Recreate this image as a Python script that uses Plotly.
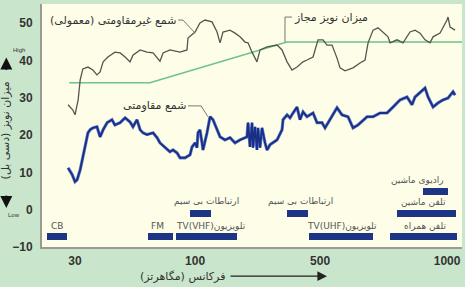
import math
import plotly.graph_objects as go

# ---------------- data ----------------
gray_freq = [28.1, 29.4, 30.0, 30.9, 31.5, 32.3, 33.9, 35.5, 36.9, 38.0, 39.1, 40.9, 43.7, 45.9, 48.1,
             50.4, 51.8, 55.4, 59.1, 62.6, 66.8, 68.8, 73.4, 80.7, 86.2, 87.0, 93.0, 97.4, 102.1, 109.1,
             114.4, 117.7, 121.0, 129.3, 135.5, 142.1, 148.9, 153.2, 159.1, 166.7, 171.5, 183.3, 201.4,
             211.1, 221.3, 231.9, 243.1, 257.2, 267.1, 282.7, 296.3, 310.6, 322.5, 338.1, 354.4, 364.6,
             382.2, 412.1, 440.3, 461.5, 474.8, 497.7, 521.7, 546.9, 573.3, 584.2, 624.1, 660.1, 705.1,
             739.1, 775.0, 812.3, 851.6, 876.0, 935.6, 999.4, 1008.8, 1028, 1078]
gray_db = [28.1, 26.7, 25.4, 29.4, 34.8, 37.7, 38.2, 37.4, 36.1, 36.9, 39.6, 40.9, 42.2, 42.0, 40.9,
           39.6, 41.4, 42.8, 42.2, 42.0, 39.8, 42.0, 42.8, 42.2, 42.8, 46.0, 47.6, 50.0, 50.8, 50.3,
           47.6, 44.7, 47.6, 48.1, 47.3, 46.3, 44.9, 44.7, 42.2, 39.6, 42.8, 43.6, 44.1,
           42.8, 39.6, 37.4, 38.2, 39.6, 40.1, 40.9, 45.5, 45.5, 44.1, 44.1, 40.6, 38.0,
           37.2, 38.0, 39.3, 40.1, 44.7, 48.1, 48.7, 47.6, 46.3, 44.7, 45.5, 44.7, 47.6,
           48.1, 47.3, 45.5, 44.7, 46.3, 47.3, 50.8, 51.6, 48.9, 48.1]

blue_freq = [28.1, 29.2, 30.0, 30.6, 31.5, 32.1, 33.0, 33.9, 34.6, 35.5, 36.9, 38.0, 39.1, 40.6, 42.5,
             43.7, 45.9, 48.1, 50.4, 51.8, 53.8, 55.4, 56.9, 59.1, 62.6, 65.0, 66.8, 70.1, 73.4, 75.5,
             78.5, 80.7, 84.6, 88.7, 90.4, 93.0, 94.7, 95.6, 97.4, 99.3, 100.2, 104.1, 107.1, 110.1,
             114.4, 117.7, 123.3, 129.3, 135.5, 142.1, 151.7, 153.2, 156.1, 159.1, 160.6, 163.6, 166.7,
             168.3, 171.5, 174.8, 179.8, 183.3, 188.5, 201.4, 211.1, 213.1, 221.3, 227.6, 234.1, 243.1,
             250.0, 257.2, 267.1, 282.7, 293.5, 307.7, 316.5, 331.8, 354.4, 371.5, 393.1, 412.1, 431.9,
             470.2, 497.7, 531.6, 567.8, 600.8, 641.9, 685.5, 718.6, 739.1, 775.0, 812.3, 835.6, 876.0,
             918.0, 962.3, 1008.8, 1057.6, 1078]
blue_db = [11.2, 9.4, 7.5, 8.0, 10.7, 13.4, 17.4, 20.6, 21.4, 21.9, 22.2, 19.5, 21.4, 23.3, 24.1,
           22.7, 23.3, 24.6, 23.5, 22.2, 24.1, 21.4, 20.6, 20.1, 20.6, 19.3, 17.9, 16.6, 15.5, 16.0,
           15.2, 13.9, 13.9, 14.7, 16.8, 17.9, 16.6, 20.6, 21.4, 17.9, 16.0, 20.6, 24.9, 24.1,
           21.4, 19.5, 18.7, 19.3, 17.9, 18.7, 19.5, 23.3, 16.8, 23.3, 16.6, 22.2, 16.0,
           21.9, 16.6, 21.9, 17.9, 16.0, 17.4, 18.7, 21.4, 24.1, 25.4, 24.6, 25.9, 27.5,
           24.1, 26.2, 24.9, 25.9, 23.3, 23.3, 21.9, 24.1, 27.3, 25.4, 24.9, 21.9, 22.7,
           24.9, 24.9, 25.9, 25.9, 27.5, 29.4, 30.2, 28.1, 30.2, 31.3, 32.6, 30.2, 27.5,
           28.6, 29.4, 29.9, 31.6, 30.7]

limit_freq = [28.4, 60.8, 221.0, 1155.0]
limit_db = [34.0, 34.0, 44.9, 44.9]

band_start = [23.0, 59.7, 77.7, 88.7, 221.0, 272.0, 584.0, 624.0, 797.0]
band_end = [27.8, 75.5, 138.0, 108.0, 270.0, 497.7, 1098.0, 1088.0, 1009.0]
band_level = [-7.2, -7.2, -7.2, -1.1, -1.1, -7.2, -7.2, -1.1, 4.9]

label_text = ["CB", "FM", "TV(VHF)تلویزیون", "\u200fارتباطات بی سیم", "\u200fارتباطات بی سیم",
              "TV(UHF)تلویزیون", "تلفن همراه", "تلفن ماشین", "رادیوی ماشین"]
label_freq = [25.3, 65.0, 108.0, 104.0, 250.0, 371.0, 812.0, 800.0, 760.0]
label_db = [-4.4, -4.4, -4.4, 2.2, 2.2, -4.4, -4.4, 2.1, 8.0]

x_tick_vals = [30, 93, 302, 1000]
x_tick_text = ["30", "100", "500", "1000"]
y_tick_vals = [-10, 0, 10, 20, 30, 40, 50]

# callout texts and leader polylines (freq, dB)
lead_gray_f = [79.2, 83.0, 93.0]
lead_gray_db = [50.8, 50.8, 47.3]
lead_limit_f = [232.0, 217.0, 217.0]
lead_limit_db = [51.6, 51.6, 44.9]
lead_blue_f = [87.0, 98.4, 105.0]
lead_blue_db = [27.8, 27.8, 24.9]

PERSIAN = "DejaVu Sans"
NAVY = "#1c3584"
TICKFONT = dict(family="Liberation Sans, Arial", size=12, color="#333", weight="bold")

fig = go.Figure()

# bands
fig.add_trace(go.Bar(
    orientation="h", y=band_level, base=band_start,
    x=[e - s for s, e in zip(band_start, band_end)],
    width=[1.9] * len(band_start), marker=dict(color=NAVY, line=dict(width=0)),
    hoverinfo="skip", showlegend=False))

# allowed limit
fig.add_trace(go.Scatter(x=limit_freq, y=limit_db, mode="lines",
                         line=dict(color="#6cc48a", width=1.6), showlegend=False, hoverinfo="skip"))
# non-resistive plug
fig.add_trace(go.Scatter(x=gray_freq, y=gray_db, mode="lines",
                         line=dict(color="#55554f", width=1.3), showlegend=False, hoverinfo="skip"))
# resistive plug (halo + core)
fig.add_trace(go.Scatter(x=blue_freq, y=blue_db, mode="lines",
                         line=dict(color="#6f84c8", width=3.2), showlegend=False, hoverinfo="skip"))
fig.add_trace(go.Scatter(x=blue_freq, y=blue_db, mode="lines",
                         line=dict(color="#172f86", width=1.9), showlegend=False, hoverinfo="skip"))

# leaders
for lf, ld in [(lead_gray_f, lead_gray_db), (lead_limit_f, lead_limit_db), (lead_blue_f, lead_blue_db)]:
    fig.add_trace(go.Scatter(x=lf, y=ld, mode="lines", line=dict(color="#6a6a62", width=0.9),
                             showlegend=False, hoverinfo="skip"))

ann = []
ann.append(dict(x=math.log10(lead_gray_f[0]), y=lead_gray_db[0], xref="x", yref="y",
                text="\u200fشمع غیرمقاومتی (معمولی)\u200f", showarrow=False, xanchor="right",
                yanchor="middle", font=dict(family=PERSIAN, size=11, color="#333")))
ann.append(dict(x=math.log10(lead_limit_f[0]), y=lead_limit_db[0], xref="x", yref="y",
                text="میزان نویز مجاز", showarrow=False, xanchor="left",
                yanchor="middle", font=dict(family=PERSIAN, size=11, color="#333")))
ann.append(dict(x=math.log10(lead_blue_f[0]), y=lead_blue_db[0], xref="x", yref="y",
                text="شمع مقاومتی", showarrow=False, xanchor="right",
                yanchor="middle", font=dict(family=PERSIAN, size=11, color="#333")))

for t, f, d in zip(label_text, label_freq, label_db):
    ann.append(dict(x=math.log10(f), y=d, xref="x", yref="y", text=t, showarrow=False,
                    xanchor="center", yanchor="middle",
                    font=dict(family=PERSIAN, size=9, color="#555")))

# x-axis title with arrow
ann.append(dict(x=(227 - 42) / 420, y=-0.12, xref="paper", yref="paper",
                text="\u200fفرکانس (مگاهرتز)\u200f", showarrow=False, xanchor="right", yanchor="middle",
                font=dict(family=PERSIAN, size=11, color="#333")))
ann.append(dict(x=(327 - 42) / 420, y=-0.12, xref="paper", yref="paper", text="",
                showarrow=True, ax=-98, ay=0, arrowhead=2, arrowsize=1.6, arrowwidth=1.2,
                arrowcolor="#222"))

# y-axis title with arrows
ann.append(dict(x=-0.088, y=0.48, xref="paper", yref="paper",
                text="\u200fمیزان نویز (دسی بل)\u200f", textangle=-90, showarrow=False,
                xanchor="center", yanchor="middle",
                font=dict(family=PERSIAN, size=11, color="#333")))
ann.append(dict(x=-0.085, y=0.78, xref="paper", yref="paper", text="", showarrow=True,
                ax=0, ay=14, arrowhead=2, arrowsize=1.6, arrowwidth=1.5, arrowcolor="#111"))
ann.append(dict(x=-0.085, y=0.16, xref="paper", yref="paper", text="", showarrow=True,
                ax=0, ay=-14, arrowhead=2, arrowsize=1.6, arrowwidth=1.5, arrowcolor="#111"))
ann.append(dict(x=-0.075, y=0.83, xref="paper", yref="paper", text="High", showarrow=False,
                font=dict(family="Liberation Sans, Arial", size=6, color="#333")))
ann.append(dict(x=-0.085, y=0.11, xref="paper", yref="paper", text="Low", showarrow=False,
                font=dict(family="Liberation Sans, Arial", size=6, color="#333")))

fig.update_layout(
    width=465, height=287,
    margin=dict(l=42, r=3, t=4, b=40),
    paper_bgcolor="#c9e6cc",
    plot_bgcolor="#fdfde8",
    showlegend=False,
    bargap=0,
    annotations=ann,
    xaxis=dict(type="log", range=[1.342, 3.061], tickvals=x_tick_vals, ticktext=x_tick_text,
               showgrid=False, zeroline=False, showline=True, linecolor="#9a9a92", linewidth=2,
               ticks="outside", ticklen=2, tickcolor="rgba(0,0,0,0)", tickfont=TICKFONT),
    yaxis=dict(range=[-10, 55.1], tickvals=y_tick_vals, showgrid=False, zeroline=False,
               showline=True, linecolor="#9a9a92", linewidth=2,
               ticks="outside", ticklen=5, tickcolor="rgba(0,0,0,0)", tickfont=TICKFONT),
)

fig.write_html("out.html", config={"displayModeBar": False},
               post_script="document.body.style.margin='0px';document.body.style.overflow='hidden';")
